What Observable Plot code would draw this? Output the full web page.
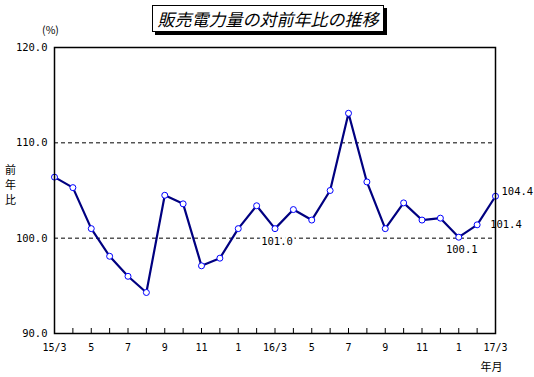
<!DOCTYPE html>
<html><head><meta charset="utf-8">
<script src="https://cdn.jsdelivr.net/npm/d3@7"></script>
<script src="https://cdn.jsdelivr.net/npm/@observablehq/plot@0.6"></script>
<style>
body{margin:0;background:#fff;}
#wrap{position:relative;width:534px;height:377px;}
#title{position:absolute;left:152px;top:5px;width:230px;height:25px;border:1px solid #000;box-shadow:3px 3px 0 #000;background:#fff;
 font-family:"Noto Sans CJK JP";font-style:italic;font-size:17px;line-height:25px;text-align:center;color:#000;letter-spacing:0px;}
</style></head><body>
<div id="wrap"><div id="title">販売電力量の対前年比の推移</div></div>
<script>
const months = ["15/3","4","5","6","7","8","9","10","11","12","1","2","16/3","4","5","6","7","8","9","10","11","12","1","2","17/3"];
const values = [106.4,105.3,101.0,98.1,96.0,94.3,104.5,103.6,97.1,97.9,101.0,103.4,101.0,103.0,101.9,105.0,113.1,105.9,101.0,103.7,101.9,102.1,100.1,101.4,104.4];
const yTicks = [90,100,110,120];
const gridValues = [100,110];

const data = values.map((v,i)=>({i, v, m: months[i]}));
const idx = months.map((_,i)=>i);
const labeledIdx = idx.filter(i=>i%2===0);
const mono = "DejaVu Sans Mono";
const jp = "Noto Sans CJK JP";
const lab = i => ({i, v: values[i], t: values[i].toFixed(1)});

const chart = Plot.plot({
  width:534, height:377,
  marginLeft:54, marginRight:39, marginTop:47, marginBottom:44,
  style:{fontFamily:mono, fontSize:"10px", background:"white", color:"black"},
  x:{domain:[0,months.length-1]},
  y:{domain:[90,120]},
  marks:[
    Plot.ruleY(gridValues,{stroke:"black", strokeDasharray:"4,3", strokeWidth:1}),
    Plot.tickX(idx,{x:d=>d, insetTop:281, stroke:"black"}),
    Plot.axisX({ticks:labeledIdx, tickFormat:i=>months[i], tickSize:0, tickPadding:10, label:null, fontSize:10}),
    Plot.axisY({ticks:yTicks, tickFormat:d3.format(".1f"), tickSize:0, tickPadding:7, label:null, fontSize:10.5}),
    Plot.line(data,{x:"i", y:"v", stroke:"#000080", strokeWidth:2.2}),
    Plot.dot(data,{x:"i", y:"v", r:3, fill:"white", stroke:"#0000ff", strokeWidth:1}),
    Plot.text([lab(12)],{x:"i", y:"v", text:"t", dx:2, dy:13, stroke:"white", strokeWidth:5, fill:"black", fontSize:10.5}),
    Plot.text([lab(22)],{x:"i", y:"v", text:"t", dx:3, dy:12, stroke:"white", strokeWidth:5, fill:"black", fontSize:10.5}),
    Plot.text([lab(23)],{x:"i", y:"v", text:"t", dx:13, dy:0, textAnchor:"start", stroke:"white", strokeWidth:5, fill:"black", fontSize:10.5}),
    Plot.text([lab(24)],{x:"i", y:"v", text:"t", dx:6, dy:-5, textAnchor:"start", stroke:"white", strokeWidth:5, fill:"black", fontSize:10.5}),
    Plot.frame({stroke:"black", strokeWidth:1.5}),
    Plot.text(["(%)"],{frameAnchor:"top-left", textAnchor:"middle", dx:-4, dy:-21, fontSize:10.5, fontFamily:jp}),
    Plot.text(["前\n年\n比"],{frameAnchor:"left", textAnchor:"middle", lineHeight:1.35, dx:-44, dy:-6, fontSize:11, fontFamily:jp}),
    Plot.text(["年月"],{frameAnchor:"bottom-right", textAnchor:"end", dx:7, dy:37, fontSize:11, fontFamily:jp})
  ]
});
document.getElementById("wrap").prepend(chart);
</script></body></html>
